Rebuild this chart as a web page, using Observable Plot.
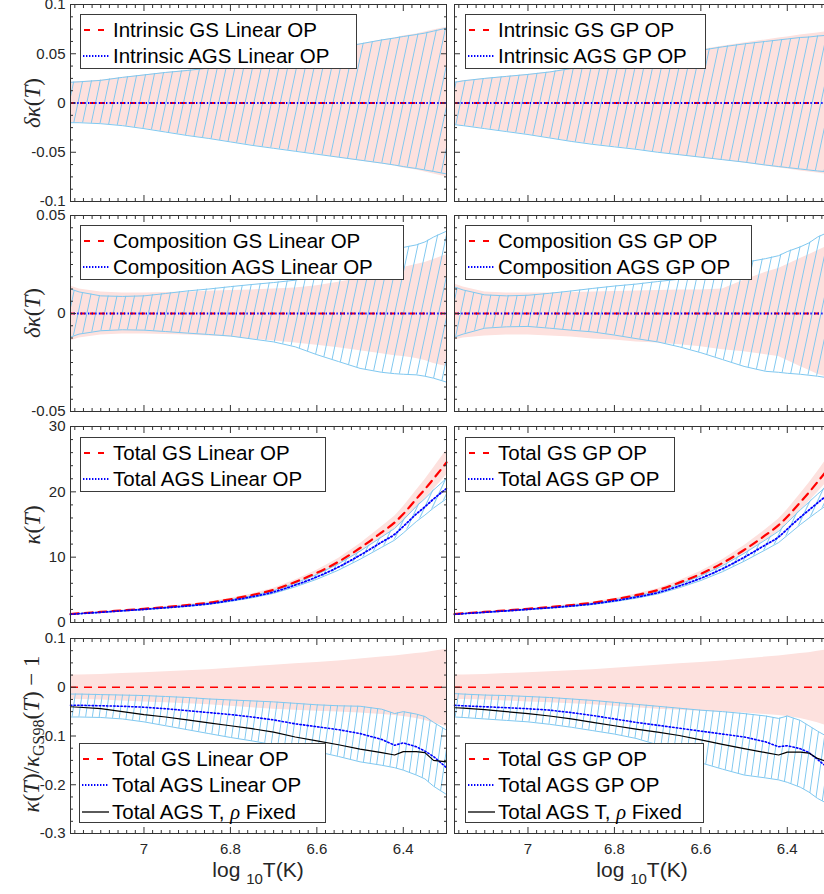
<!DOCTYPE html>
<html><head><meta charset="utf-8">
<script src="https://cdn.jsdelivr.net/npm/d3@7"></script>
<script src="https://cdn.jsdelivr.net/npm/@observablehq/plot@0.6"></script>
<style>
body{margin:0;background:#fff}
#fig{position:relative;width:824px;height:894px;overflow:hidden;background:#fff;font-family:"Liberation Sans",Arial,sans-serif;color:#262626}
.panel{position:absolute}
.panel svg{overflow:visible;display:block;max-width:none !important}
.legend{position:absolute;box-sizing:border-box;background:#fff;border:1px solid #3a3a3a;padding:1.5px 0 0 2px;font-size:20.5px;line-height:26px;white-space:nowrap;color:#000}
.legend .row{display:flex;align-items:center;height:26px}
.legend.three .row{height:26.5px}
.legend .row svg{width:27px;height:10px;margin-right:3px;flex:none}
.ylab{position:absolute;font-family:"Liberation Serif","Times New Roman",serif;font-size:23px;transform:translate(-50%,-50%) rotate(-90deg);white-space:nowrap;color:#262626}
.ylab sub{font-style:normal;font-size:16px;vertical-align:-5px}
.xlab{position:absolute;font-size:21px;transform:translate(-50%,-50%);white-space:nowrap;color:#262626}
.xlab sub{font-size:15px;vertical-align:-7px}
</style></head>
<body>
<svg width="0" height="0" style="position:absolute">
  <defs>
    <pattern id="hatchA" patternUnits="userSpaceOnUse" width="8.6" height="10" patternTransform="rotate(12)">
      <line x1="4.3" y1="-2" x2="4.3" y2="12" stroke="#80c8f0" stroke-width="1"/>
    </pattern>
    <pattern id="hatchB" patternUnits="userSpaceOnUse" width="7" height="10" patternTransform="rotate(25)">
      <line x1="3.5" y1="-2" x2="3.5" y2="12" stroke="#80c8f0" stroke-width="1"/>
    </pattern>
    <pattern id="hatchC" patternUnits="userSpaceOnUse" width="6.7" height="10" patternTransform="rotate(8)">
      <line x1="3.35" y1="-2" x2="3.35" y2="12" stroke="#80c8f0" stroke-width="1"/>
    </pattern>
  </defs>
</svg>
<div id="fig"></div>
<script>
// ---------- data ----------
const logT = [7.17, 7.15, 7.10, 7.05, 7.00, 6.95, 6.90, 6.85, 6.80, 6.75, 6.70, 6.65, 6.60, 6.55, 6.50, 6.45, 6.42, 6.40, 6.37, 6.35, 6.33, 6.30];

// Row 1: intrinsic relative uncertainty bands
const intLinGsHi  = [0.021,0.0215,0.023,0.026,0.0285,0.031,0.033,0.0355,0.038,0.041,0.044,0.048,0.052,0.056,0.060,0.064,0.066,0.068,0.070,0.072,0.074,0.077];
const intLinGsLo  = [-0.020,-0.020,-0.021,-0.023,-0.026,-0.0295,-0.033,-0.036,-0.0395,-0.043,-0.046,-0.049,-0.052,-0.0555,-0.059,-0.062,-0.064,-0.066,-0.068,-0.070,-0.072,-0.075];
const intLinAgsHi = [0.021,0.0215,0.023,0.026,0.0285,0.031,0.033,0.0355,0.038,0.041,0.044,0.048,0.052,0.056,0.060,0.064,0.066,0.0675,0.0695,0.071,0.073,0.076];
const intLinAgsLo = [-0.020,-0.020,-0.021,-0.023,-0.026,-0.0295,-0.033,-0.036,-0.0395,-0.043,-0.046,-0.049,-0.052,-0.055,-0.058,-0.061,-0.063,-0.0645,-0.0665,-0.068,-0.0695,-0.072];
const intGpGsHi   = [0.021,0.0225,0.025,0.027,0.029,0.0315,0.035,0.038,0.0415,0.044,0.047,0.0505,0.054,0.0575,0.061,0.064,0.066,0.067,0.069,0.070,0.071,0.073];
const intGpGsLo   = [-0.022,-0.023,-0.026,-0.029,-0.032,-0.0355,-0.039,-0.042,-0.0445,-0.047,-0.050,-0.053,-0.0555,-0.058,-0.061,-0.064,-0.066,-0.067,-0.069,-0.070,-0.071,-0.073];
const intGpAgsHi  = [0.021,0.0225,0.025,0.027,0.029,0.0315,0.035,0.038,0.0415,0.044,0.047,0.0505,0.0535,0.057,0.060,0.0625,0.064,0.065,0.0665,0.067,0.068,0.069];
const intGpAgsLo  = [-0.022,-0.023,-0.026,-0.029,-0.032,-0.0355,-0.039,-0.042,-0.0445,-0.047,-0.050,-0.0525,-0.055,-0.0575,-0.060,-0.063,-0.0645,-0.0655,-0.067,-0.068,-0.069,-0.070];

// Row 2: composition relative uncertainty bands
const cmpLinGsHi  = [0.014,0.0125,0.011,0.0105,0.0105,0.0107,0.011,0.0113,0.0117,0.012,0.0125,0.013,0.0142,0.016,0.018,0.021,0.0225,0.0235,0.025,0.026,0.0275,0.030];
const cmpLinGsLo  = [-0.014,-0.0125,-0.011,-0.0105,-0.0105,-0.0107,-0.011,-0.0115,-0.012,-0.013,-0.014,-0.015,-0.0162,-0.0175,-0.019,-0.0205,-0.0215,-0.022,-0.023,-0.024,-0.0255,-0.027];
const cmpLinAgsHi = [0.0125,0.011,0.009,0.0087,0.009,0.0102,0.0115,0.0125,0.0137,0.0148,0.0158,0.017,0.0198,0.024,0.029,0.0315,0.033,0.0337,0.035,0.0365,0.039,0.042];
const cmpLinAgsLo = [-0.012,-0.0105,-0.0088,-0.0083,-0.0085,-0.0092,-0.010,-0.0107,-0.0115,-0.013,-0.0145,-0.017,-0.021,-0.0245,-0.028,-0.030,-0.0307,-0.031,-0.0313,-0.032,-0.033,-0.035];
const cmpGpGsHi   = [0.015,0.0135,0.011,0.0105,0.0105,0.0105,0.0107,0.011,0.0112,0.0115,0.0117,0.012,0.012,0.0125,0.017,0.021,0.023,0.025,0.028,0.030,0.032,0.035];
const cmpGpGsLo   = [-0.0135,-0.0125,-0.0115,-0.011,-0.011,-0.0115,-0.012,-0.013,-0.0135,-0.0145,-0.015,-0.016,-0.017,-0.0185,-0.0195,-0.021,-0.022,-0.024,-0.027,-0.029,-0.031,-0.033];
const cmpGpAgsHi  = [0.0135,0.012,0.0095,0.009,0.0093,0.0103,0.0115,0.0128,0.014,0.015,0.0163,0.0175,0.019,0.022,0.026,0.028,0.0295,0.0316,0.034,0.036,0.039,0.042];
const cmpGpAgsLo  = [-0.012,-0.0105,-0.0075,-0.0068,-0.0066,-0.0075,-0.0085,-0.0094,-0.011,-0.0128,-0.0145,-0.017,-0.020,-0.0235,-0.027,-0.0295,-0.030,-0.0305,-0.031,-0.0315,-0.032,-0.033];

// Row 3: total opacity kappa(T)
const kapLinGs    = [1.3,1.4,1.62,1.86,2.1,2.36,2.66,3.03,3.56,4.2,5.0,6.2,7.6,9.3,11.4,13.8,15.3,16.6,18.9,20.4,22.0,24.5];
const kapLinGsHi  = [1.33,1.44,1.66,1.91,2.16,2.44,2.75,3.14,3.70,4.38,5.23,6.50,7.99,9.80,12.06,14.66,16.28,17.70,20.20,21.85,23.63,26.41];
const kapLinGsLo  = [1.27,1.37,1.58,1.81,2.04,2.28,2.57,2.92,3.42,4.02,4.78,5.90,7.21,8.80,10.74,12.94,14.32,15.50,17.60,18.95,20.37,22.59];
const kapLinAgs   = [1.25,1.35,1.56,1.79,2.01,2.26,2.53,2.87,3.36,3.94,4.67,5.74,6.98,8.49,10.3,12.3,13.5,14.7,16.6,17.7,18.9,20.5];
const kapLinAgsHi = [1.28,1.38,1.60,1.83,2.06,2.33,2.61,2.97,3.49,4.10,4.88,6.02,7.34,8.97,10.92,13.09,14.39,15.70,17.76,18.96,20.28,22.06];
const kapLinAgsLo = [1.22,1.32,1.52,1.75,1.96,2.19,2.45,2.77,3.23,3.78,4.46,5.46,6.62,8.01,9.68,11.51,12.61,13.70,15.44,16.44,17.52,18.94];
const kapGpGs     = [1.3,1.4,1.62,1.86,2.1,2.36,2.66,3.03,3.55,4.18,4.95,6.1,7.45,9.1,11.1,13.4,14.9,16.2,18.4,19.9,21.5,24.0];
const kapGpGsHi   = [1.33,1.44,1.66,1.91,2.16,2.44,2.75,3.14,3.69,4.36,5.17,6.39,7.83,9.59,11.74,14.23,15.85,17.27,19.67,21.31,23.09,25.87];
const kapGpGsLo   = [1.27,1.37,1.58,1.81,2.04,2.28,2.57,2.92,3.41,4.00,4.73,5.81,7.07,8.61,10.46,12.57,13.95,15.13,17.13,18.49,19.91,22.13];
const kapGpAgs    = [1.25,1.35,1.56,1.78,2.01,2.25,2.52,2.85,3.32,3.88,4.56,5.59,6.78,8.23,9.97,11.9,13.1,14.3,16.1,17.2,18.3,19.9];
const kapGpAgsHi  = [1.28,1.38,1.60,1.82,2.06,2.32,2.60,2.95,3.45,4.04,4.76,5.86,7.13,8.69,10.57,12.66,13.97,15.27,17.23,18.42,19.64,21.41];
const kapGpAgsLo  = [1.22,1.32,1.52,1.74,1.96,2.18,2.44,2.75,3.19,3.72,4.36,5.32,6.43,7.77,9.37,11.14,12.24,13.33,14.97,15.98,16.96,18.39];

// Row 4: kappa / kappa_GS98 - 1
const gsRef       = [0];
const relGsHi     = [0.025,0.025,0.026,0.028,0.030,0.032,0.034,0.036,0.039,0.042,0.045,0.048,0.051,0.054,0.058,0.062,0.064,0.066,0.069,0.071,0.074,0.078];
const relGsLo     = [-0.025,-0.025,-0.026,-0.028,-0.030,-0.032,-0.034,-0.036,-0.039,-0.042,-0.045,-0.047,-0.049,-0.051,-0.053,-0.056,-0.058,-0.060,-0.064,-0.068,-0.073,-0.081];
const relLinAgs   = [-0.037,-0.037,-0.038,-0.039,-0.041,-0.044,-0.048,-0.052,-0.056,-0.061,-0.067,-0.075,-0.081,-0.087,-0.095,-0.107,-0.119,-0.114,-0.122,-0.131,-0.142,-0.165];
const relLinAgsHi = [-0.014,-0.014,-0.015,-0.016,-0.017,-0.019,-0.021,-0.024,-0.026,-0.028,-0.030,-0.033,-0.036,-0.038,-0.039,-0.045,-0.054,-0.050,-0.055,-0.060,-0.072,-0.088];
const relLinAgsLo = [-0.061,-0.061,-0.062,-0.065,-0.071,-0.079,-0.087,-0.095,-0.103,-0.110,-0.118,-0.125,-0.132,-0.142,-0.153,-0.160,-0.165,-0.170,-0.180,-0.188,-0.203,-0.220];
const relLinTrho  = [-0.040,-0.041,-0.044,-0.050,-0.056,-0.061,-0.067,-0.073,-0.079,-0.085,-0.092,-0.102,-0.110,-0.118,-0.127,-0.134,-0.139,-0.132,-0.132,-0.134,-0.150,-0.153];
const relGpAgs    = [-0.037,-0.038,-0.040,-0.042,-0.044,-0.047,-0.052,-0.058,-0.065,-0.072,-0.078,-0.084,-0.090,-0.096,-0.102,-0.112,-0.122,-0.120,-0.126,-0.134,-0.148,-0.170];
const relGpAgsHi  = [-0.013,-0.014,-0.016,-0.017,-0.019,-0.021,-0.024,-0.027,-0.031,-0.035,-0.039,-0.043,-0.047,-0.050,-0.054,-0.059,-0.064,-0.059,-0.068,-0.079,-0.090,-0.105];
const relGpAgsLo  = [-0.061,-0.062,-0.065,-0.068,-0.071,-0.076,-0.082,-0.089,-0.096,-0.105,-0.118,-0.135,-0.155,-0.168,-0.180,-0.186,-0.190,-0.195,-0.205,-0.215,-0.228,-0.242];
const relGpTrho   = [-0.042,-0.043,-0.046,-0.050,-0.054,-0.059,-0.065,-0.072,-0.079,-0.086,-0.092,-0.099,-0.108,-0.117,-0.126,-0.134,-0.139,-0.133,-0.133,-0.135,-0.146,-0.155];

// ---------- axes / ticks ----------
const xDomain = [7.17, 6.30];
const xMajor = [7, 6.8, 6.6, 6.4];
const xMinor = d3.range(316, 359).filter(k => k % 10 !== 0).map(k => k / 50);
const yRows = [
  {domain: [-0.1, 0.1], major: [-0.1, -0.05, 0, 0.05, 0.1], minor: d3.range(-8, 9).filter(k => k % 4).map(k => k / 80)},
  {domain: [-0.05, 0.05], major: [-0.05, 0, 0.05], minor: d3.range(-8, 9).filter(k => k % 8).map(k => k / 160)},
  {domain: [0, 30], major: [0, 10, 20, 30], minor: d3.range(0, 16).filter(k => k % 5).map(k => k * 2)},
  {domain: [-0.3, 0.1], major: [-0.3, -0.2, -0.1, 0, 0.1], minor: d3.range(-12, 5).filter(k => k % 4).map(k => k / 40)}
];

const legends = [
  [["Intrinsic GS Linear OP", "dash"], ["Intrinsic AGS Linear OP", "dot"]],
  [["Intrinsic GS GP OP", "dash"], ["Intrinsic AGS GP OP", "dot"]],
  [["Composition GS Linear OP", "dash"], ["Composition AGS Linear OP", "dot"]],
  [["Composition GS GP OP", "dash"], ["Composition AGS GP OP", "dot"]],
  [["Total GS Linear OP", "dash"], ["Total AGS Linear OP", "dot"]],
  [["Total GS GP OP", "dash"], ["Total AGS GP OP", "dot"]],
  [["Total GS Linear OP", "dash"], ["Total AGS Linear OP", "dot"], ["Total AGS T, \u03C1 Fixed", "solid"]],
  [["Total GS GP OP", "dash"], ["Total AGS GP OP", "dot"], ["Total AGS T, \u03C1 Fixed", "solid"]]
];

// ---------- styling ----------
const PINK = "#fde1de", LBLUE = "#80c8f0", RED = "#ff0000", BLUE = "#0000ff", FRAME = "#333333";
const DOT = "1.4,2.2";

function tab(cols) {
  return logT.map((t, i) => { const o = {t}; for (const k in cols) o[k] = cols[k][i]; return o; });
}

const rowGeom = [
  {top: 4, h: 197}, {top: 215, h: 196}, {top: 426, h: 196}, {top: 638, h: 195}
];
const colGeom = [{plotLeft: 70}, {plotLeft: 454}];
const PW = 376;

function bandMarks(d, hatch) {
  return [
    Plot.areaY(d, {x: "t", y1: "gsLo", y2: "gsHi", fill: PINK, curve: "linear"}),
    Plot.areaY(d, {x: "t", y1: "agsLo", y2: "agsHi", fill: `url(#${hatch})`, curve: "linear"}),
    Plot.line(d, {x: "t", y: "agsHi", stroke: LBLUE, strokeWidth: 1}),
    Plot.line(d, {x: "t", y: "agsLo", stroke: LBLUE, strokeWidth: 1})
  ];
}

function panel(r, c, marks) {
  const g = rowGeom[r], yr = yRows[r];
  const mt = 10, mb = r === 3 ? 34 : 10, ml = c === 0 ? 70 : 10, mr = 10;
  const ax = [
    Plot.frame({stroke: FRAME, strokeWidth: 1}),
    Plot.axisX(xMajor, {anchor: "bottom", tickSize: -6, fill: "none", stroke: FRAME, label: null}),
    Plot.axisX(xMajor, {anchor: "top", tickSize: -6, fill: "none", stroke: FRAME, label: null}),
    Plot.axisX(xMinor, {anchor: "bottom", tickSize: -3, fill: "none", stroke: FRAME, label: null}),
    Plot.axisX(xMinor, {anchor: "top", tickSize: -3, fill: "none", stroke: FRAME, label: null}),
    Plot.axisY(yr.major, {anchor: "left", tickSize: -6, fill: "none", stroke: FRAME, label: null}),
    Plot.axisY(yr.major, {anchor: "right", tickSize: -6, fill: "none", stroke: FRAME, label: null}),
    Plot.axisY(yr.minor, {anchor: "left", tickSize: -3, fill: "none", stroke: FRAME, label: null}),
    Plot.axisY(yr.minor, {anchor: "right", tickSize: -3, fill: "none", stroke: FRAME, label: null})
  ];
  if (r === 3) ax.push(Plot.axisX(xMajor, {anchor: "bottom", tickSize: 0, tickPadding: 10, stroke: "none", label: null, tickFormat: d => String(d)}));
  if (c === 0) ax.push(Plot.axisY(yr.major, {anchor: "left", tickSize: 0, tickPadding: 5, stroke: "none", label: null, tickFormat: d => String(d)}));
  const W = ml + PW + mr, H = mt + g.h + mb;
  const svg = Plot.plot({
    width: W, height: H,
    marginLeft: ml, marginRight: mr, marginTop: mt, marginBottom: mb,
    style: {background: "transparent", fontFamily: "'Liberation Sans', Arial, sans-serif", fontSize: "15px", color: "#262626", overflow: "visible", maxWidth: "none"},
    x: {domain: xDomain},
    y: {domain: yr.domain},
    marks: [...marks, ...ax]
  });
  svg.setAttribute("width", W); svg.setAttribute("height", H);
  svg.style.width = W + "px"; svg.style.height = H + "px";
  const div = document.createElement("div");
  div.className = "panel";
  div.style.left = (colGeom[c].plotLeft - ml) + "px";
  div.style.top = (g.top - mt) + "px";
  div.style.width = W + "px"; div.style.height = H + "px";
  div.appendChild(svg);
  document.getElementById("fig").appendChild(div);
}

function zeroLines() {
  return [
    Plot.ruleY(gsRef, {stroke: RED, strokeWidth: 2, strokeDasharray: "5,5"}),
    Plot.ruleY(gsRef, {stroke: BLUE, strokeWidth: 1.8, strokeDasharray: DOT})
  ];
}

// Row 1
panel(0, 0, [...bandMarks(tab({gsHi: intLinGsHi, gsLo: intLinGsLo, agsHi: intLinAgsHi, agsLo: intLinAgsLo}), "hatchA"), ...zeroLines()]);
panel(0, 1, [...bandMarks(tab({gsHi: intGpGsHi, gsLo: intGpGsLo, agsHi: intGpAgsHi, agsLo: intGpAgsLo}), "hatchA"), ...zeroLines()]);
// Row 2
panel(1, 0, [...bandMarks(tab({gsHi: cmpLinGsHi, gsLo: cmpLinGsLo, agsHi: cmpLinAgsHi, agsLo: cmpLinAgsLo}), "hatchA"), ...zeroLines()]);
panel(1, 1, [...bandMarks(tab({gsHi: cmpGpGsHi, gsLo: cmpGpGsLo, agsHi: cmpGpAgsHi, agsLo: cmpGpAgsLo}), "hatchA"), ...zeroLines()]);
// Row 3
const k3L = tab({gs: kapLinGs, gsHi: kapLinGsHi, gsLo: kapLinGsLo, ags: kapLinAgs, agsHi: kapLinAgsHi, agsLo: kapLinAgsLo});
const k3R = tab({gs: kapGpGs, gsHi: kapGpGsHi, gsLo: kapGpGsLo, ags: kapGpAgs, agsHi: kapGpAgsHi, agsLo: kapGpAgsLo});
for (const [c, d] of [[0, k3L], [1, k3R]]) {
  panel(2, c, [
    ...bandMarks(d, "hatchB"),
    Plot.line(d, {x: "t", y: "gs", stroke: RED, strokeWidth: 2.2, strokeDasharray: "8,6", curve: "monotone-x"}),
    Plot.line(d, {x: "t", y: "ags", stroke: BLUE, strokeWidth: 1.8, strokeDasharray: DOT, curve: "monotone-x"})
  ]);
}
// Row 4
const k4L = tab({gsHi: relGsHi, gsLo: relGsLo, ags: relLinAgs, agsHi: relLinAgsHi, agsLo: relLinAgsLo, trho: relLinTrho});
const k4R = tab({gsHi: relGsHi, gsLo: relGsLo, ags: relGpAgs, agsHi: relGpAgsHi, agsLo: relGpAgsLo, trho: relGpTrho});
for (const [c, d] of [[0, k4L], [1, k4R]]) {
  panel(3, c, [
    ...bandMarks(d, "hatchC"),
    Plot.ruleY(gsRef, {stroke: RED, strokeWidth: 1.6, strokeDasharray: "8,6"}),
    Plot.line(d, {x: "t", y: "ags", stroke: BLUE, strokeWidth: 1.6, strokeDasharray: DOT}),
    Plot.line(d, {x: "t", y: "trho", stroke: "#000", strokeWidth: 1.2})
  ]);
}

// ---------- legends ----------
const legendBoxes = [
  {left: 80, top: 14, w: 277}, {left: 465, top: 14, w: 241},
  {left: 80, top: 225, w: 324}, {left: 465, top: 225, w: 287},
  {left: 80, top: 437, w: 246}, {left: 465, top: 437, w: 210},
  {left: 79, top: 743, w: 247}, {left: 465, top: 743, w: 239}
];
const sample = {
  dash: `<svg viewBox="0 0 27 10"><line x1="1" y1="5" x2="27" y2="5" stroke="${RED}" stroke-width="2" stroke-dasharray="6,8"/></svg>`,
  dot: `<svg viewBox="0 0 27 10"><line x1="0" y1="5" x2="27" y2="5" stroke="${BLUE}" stroke-width="1.8" stroke-dasharray="1.4,1.6"/></svg>`,
  solid: `<svg viewBox="0 0 27 10"><line x1="0" y1="5" x2="27" y2="5" stroke="#000" stroke-width="1.3"/></svg>`
};
const fig = document.getElementById("fig");
legends.forEach((items, i) => {
  const b = legendBoxes[i];
  const el = document.createElement("div");
  el.className = "legend" + (items.length === 3 ? " three" : "");
  el.style.left = b.left + "px"; el.style.top = b.top + "px"; el.style.width = b.w + "px";
  el.style.height = (items.length === 3 ? 80 : 55) + "px";
  el.innerHTML = items.map(([txt, s]) => `<div class="row">${sample[s]}<span>${txt.replace("\u03C1", "<i style=\"font-family:'Liberation Serif',serif\">\u03C1</i>")}</span></div>`).join("");
  fig.appendChild(el);
});

// ---------- axis titles ----------
const ylabs = [
  {y: 103, html: "<i>\u03B4\u03BA</i>(<i>T</i>)"},
  {y: 313, html: "<i>\u03B4\u03BA</i>(<i>T</i>)"},
  {y: 525, html: "<i>\u03BA</i>(<i>T</i>)"},
  {y: 734, html: "<i>\u03BA</i>(<i>T</i>)/<i>\u03BA</i><sub>GS98</sub>(<i>T</i>) \u2212 1"}
];
ylabs.forEach(l => {
  const el = document.createElement("div");
  el.className = "ylab"; el.style.left = "33px"; el.style.top = l.y + "px"; el.innerHTML = l.html;
  fig.appendChild(el);
});
[258, 642].forEach(x => {
  const el = document.createElement("div");
  el.className = "xlab"; el.style.left = x + "px"; el.style.top = "872px";
  el.innerHTML = "log <sub>10</sub>T(K)";
  fig.appendChild(el);
});
</script>
</body></html>
